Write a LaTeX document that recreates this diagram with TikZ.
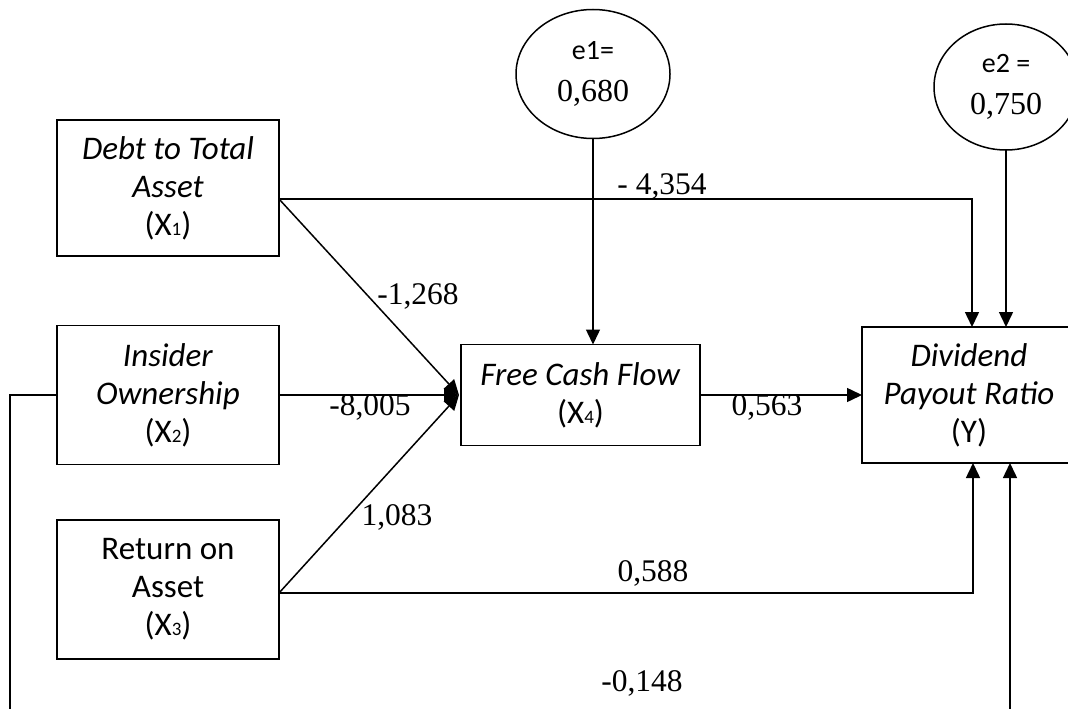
\documentclass[tikz,border=0pt]{standalone}
\usepackage{fontspec}
\setmainfont{Carlito}
\newfontfamily\numfont{Liberation Serif}
\usetikzlibrary{arrows.meta,shapes.geometric,calc}
\newcommand{\smallsub}[1]{{\fontsize{19}{19}\selectfont #1}}
\begin{document}
\begin{tikzpicture}[x=1pt,y=-1pt,
  box/.style={draw,line width=1.8pt,inner sep=0pt,outer sep=0pt,align=center,
    font=\fontsize{33}{38}\selectfont},
  err/.style={draw,ellipse,line width=1.5pt,inner sep=0pt,outer sep=0pt,align=center,
    font=\fontsize{30}{42}\selectfont},
  conn/.style={line width=1.5pt,-{Triangle[length=15pt,width=14pt]}},
  lbl/.style={font=\numfont\fontsize{31.5}{31.5}\selectfont,inner sep=0pt}]
\useasboundingbox (0,0) rectangle (1068,709);
\clip (0,0) rectangle (1068,709);

\node[box,minimum width=222pt,minimum height=136pt] (x1) at (168,188)
  {\textit{Debt to Total}\\\textit{Asset}\\(X\smallsub{1})};
\node[box,minimum width=222pt,minimum height=139pt] (x2) at (168,395)
  {\textit{Insider}\\\textit{Ownership}\\(X\smallsub{2})};
\node[box,minimum width=222pt,minimum height=139pt] (x3) at (168,589.5)
  {Return on\\Asset\\(X\smallsub{3})};
\node[box,minimum width=239pt,minimum height=101pt] (fcf) at (580.5,395)
  {\textit{Free Cash Flow}\\(X\smallsub{4})};
\node[box,line width=1.5pt,minimum width=214pt,minimum height=136pt] (y) at (969,395)
  {\textit{Dividend}\\\textit{Payout Ratio}\\(Y)};
\node[err,minimum width=154pt,minimum height=129pt] (e1) at (593,74)
  {{\fontsize{28}{28}\selectfont e1=}\\{\numfont\fontsize{32}{32}\selectfont 0,680}};
\node[err,minimum width=144pt,minimum height=126pt] (e2) at (1006,87)
  {{\fontsize{28}{28}\selectfont e2 =}\\{\numfont\fontsize{32}{32}\selectfont 0,750}};

\coordinate (a1) at ($(x1.east)+(0,11)$);
\coordinate (a3) at ($(x3.east)+(0,3.5)$);
\coordinate (tip) at ($(fcf.west)+(-2,0)$);
\coordinate (yt1) at ($(y.north)+(3,0)$);
\coordinate (yb1) at ($(y.south)+(4,0)$);
\coordinate (yb2) at ($(y.south)+(41,0)$);
\coordinate (lft) at (10,0);
\coordinate (bot) at (0,730);

% X1 -> Y
\draw[conn] (a1) -- (a1 -| yt1) -- (yt1);
% e2 -> Y
\draw[conn] (e2.south) -- (e2.south |- y.north);
% e1 -> FCF
\draw[conn] (e1.south) -- (e1.south |- fcf.north);
% X1, X2, X3 -> FCF
\draw[conn] (a1) -- (tip);
\draw[conn] (x2.east) -- (tip);
\draw[conn] (a3) -- (tip);
% FCF -> Y
\draw[conn] (fcf.east) -- (fcf.east -| y.west);
% X3 -> Y
\draw[conn] (a3) -- (a3 -| yb1) -- (yb1);
% X2 -> Y (bottom)
\draw[conn] (x2.west) -- (x2.west -| lft) -- (lft |- bot) -- (bot -| yb2) -- (yb2);

\node[lbl] (l1) at (662,186) {- 4,354};
\node[lbl] (l2) at (418,296) {-1,268};
\node[lbl] (l3) at (370,407) {-8,005};
\node[lbl] (l4) at (767,407) {0,563};
\node[lbl] (l5) at (397,517) {1,083};
\node[lbl] (l6) at (653,573) {0,588};
\node[lbl] (l7) at (642,683) {-0,148};
\end{tikzpicture}
\end{document}
